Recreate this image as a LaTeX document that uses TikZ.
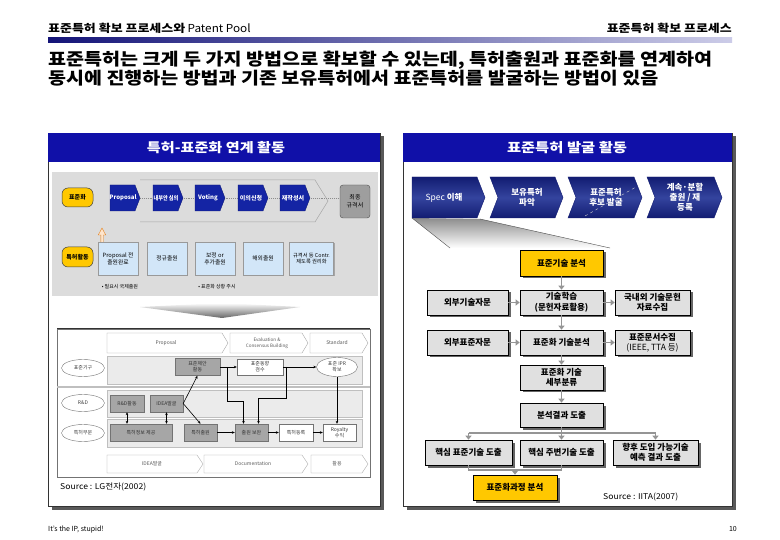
\documentclass[tikz,border=0pt]{standalone}
\usepackage{fontspec}
\usepackage{graphicx}
\setmainfont{Noto Sans CJK KR}
\usetikzlibrary{arrows.meta,shadows,calc,shapes.geometric}
\definecolor{navyL}{HTML}{141478}
\definecolor{navyR}{HTML}{CCCCE8}
\definecolor{titleblue}{HTML}{1010A8}
\definecolor{chevb}{HTML}{1424A4}
\definecolor{rnavy}{HTML}{121C72}
\definecolor{rnavyM}{HTML}{34449E}
\definecolor{ygold}{HTML}{FFC800}
\definecolor{boxgray}{HTML}{E0E0E0}
\definecolor{lgbg}{HTML}{DCDCDC}
\definecolor{lblue}{HTML}{D2E6F8}
\definecolor{arrgray}{HTML}{959595}
\newcommand{\fsz}[2]{\fontsize{#1}{#2}\selectfont}
\newcommand{\wfit}[2]{\resizebox{#1}{\height}{#2}}
\newcommand{\chevfill}[6]{\path[#1] (#2,#4) -- ({#3-#6},#4) -- (#3,{(#4+#5)/2}) -- ({#3-#6},#5) -- (#2,#5) -- cycle;}
\newcommand{\chevnotch}[6]{\path[#1] (#2,#4) -- ({#3-#6},#4) -- (#3,{(#4+#5)/2}) -- ({#3-#6},#5) -- (#2,#5) -- ({#2+#6},{(#4+#5)/2}) -- cycle;}
\begin{document}
\begin{tikzpicture}[x=1pt,y=-1pt,
  gbox/.style={draw=black, line width=0.6pt, fill=boxgray, font=\fsz{8.5}{10.5}\bfseries, align=center, inner sep=0pt,
    drop shadow={shadow xshift=2.5pt, shadow yshift=-2.5pt, fill=black!60, opacity=1}},
  ybox/.style={gbox, fill=ygold},
  garr/.style={draw=arrgray, line width=1.8pt, -{Triangle[length=4pt,width=6pt]}},
  gline/.style={draw=arrgray, line width=1.8pt},
  rchev/.style={top color=rnavy, bottom color=rnavy, middle color=rnavyM, draw=rnavy, line width=0.4pt},
  rtxt/.style={font=\fsz{8.5}{10}\bfseries, text=white, align=center, inner sep=0pt},
  bchev/.style={fill=chevb, draw=chevb!70!black, line width=0.3pt},
  btxt/.style={font=\fsz{6}{7}\bfseries, text=white, inner sep=0pt},
  wchev/.style={fill=white, draw=black!35, line width=0.4pt},
  wtxt/.style={font=\fsz{5}{6}, text=black!65, align=center, inner sep=0pt},
  yrnd/.style={fill=ygold, draw=black!75, line width=0.5pt, rounded corners=6pt, font=\fsz{6}{7}\bfseries, inner sep=0pt},
  lbbox/.style={fill=lblue, draw=black!40, line width=0.4pt, font=\fsz{5.8}{7}, align=center, inner sep=0pt,
    minimum width=40pt, minimum height=33pt, drop shadow={shadow xshift=1.2pt, shadow yshift=-1.2pt, fill=black!35, opacity=1}},
  dgbox/.style={fill=black!35, draw=black!55, line width=0.4pt, font=\fsz{5}{6}, text=black!80, align=center, inner sep=0pt, minimum height=17pt},
  wbox/.style={dgbox, fill=white},
  ell/.style={ellipse, draw=black!55, fill=white, line width=0.4pt, font=\fsz{5}{6}, text=black!75, align=center, inner sep=0pt},
  barr/.style={draw=black, line width=0.6pt},
  tip/.style={-{Stealth[length=3pt,width=2.6pt]}}
]
\useasboundingbox (0,0) rectangle (780,540);
\fill[white] (0,0) rectangle (780,540);

% ---------- header ----------
\node[anchor=base west, inner sep=0pt, font=\fsz{11}{13}] (hl) at (48,33) {\wfit{137pt}{\textbf{표준특허 확보 프로세스와}} \wfit{63pt}{Patent Pool}};
\node[anchor=base east, inner sep=0pt, font=\fsz{11}{13}\bfseries] (hr) at (732,33) {\wfit{125pt}{표준특허 확보 프로세스}};
\shade[left color=navyL, right color=navyR] (48,38) rectangle (732,42.5);
\node[anchor=base west, inner sep=0pt, font=\fsz{17}{20}\bfseries] (t1) at (48,66) {\wfit{664pt}{표준특허는 크게 두 가지 방법으로 확보할 수 있는데, 특허출원과 표준화를 연계하여}};
\node[anchor=base west, inner sep=0pt, font=\fsz{17}{20}\bfseries] (t2) at (48,85) {\wfit{610pt}{동시에 진행하는 방법과 기존 보유특허에서 표준특허를 발굴하는 방법이 있음}};

% ---------- panels ----------
\fill[black!65] (51.5,136.5) rectangle (383.5,509.5);
\filldraw[fill=white, draw=black!80, line width=0.6pt] (48,133) rectangle (380,506);
\fill[titleblue] (48,133) rectangle (380,162);
\node[font=\fsz{13}{15}\bfseries, text=white] (lt) at (216,148) {\wfit{138pt}{특허-표준화 연계 활동}};

\fill[black!65] (406.5,136.5) rectangle (735.5,509.5);
\filldraw[fill=white, draw=black!80, line width=0.6pt] (403,133) rectangle (732,506);
\fill[titleblue] (403,133) rectangle (732,162);
\node[font=\fsz{13}{15}\bfseries, text=white] (rt) at (567,148) {\wfit{120pt}{표준특허 발굴 활동}};

% ---------- left: picture 1 ----------
\fill[lgbg] (52,172) rectangle (378,296);
\draw[black!35, line width=0.5pt] (140,180) -- (315,180) -- (328,201) -- (315,222) -- (140,222);
\draw[black!45, densely dotted, line width=0.9pt] (140,198) -- (340,198);
\chevfill{bchev}{110}{140}{185}{211}{5}
\chevfill{bchev}{153}{183}{185}{211}{5}
\chevfill{bchev}{195}{225}{185}{211}{5}
\chevfill{bchev}{238}{268}{185}{211}{5}
\chevfill{bchev}{280}{310}{185}{211}{5}
\node[btxt] (c1) at (123,198) {Proposal};
\node[btxt] (c2) at (166,198) {\wfit{25pt}{내부안 심의}};
\node[btxt] (c3) at (208,198) {Voting};
\node[btxt] (c4) at (251,198) {이의신청};
\node[btxt] (c5) at (293,198) {재작성서};
\node[draw=black!70, fill=black!38, rounded corners=3pt, minimum width=30pt, minimum height=33pt, inner sep=0pt,
  font=\fsz{6}{7.5}, align=center] (fin) at (355,201.5) {최종\\규격서};
\node[yrnd, minimum width=31pt, minimum height=19pt] (ys) at (77.5,197.5) {표준화};
\node[yrnd, minimum width=31pt, minimum height=20pt] (yp) at (77.5,257) {특허활동};
\filldraw[fill=orange!20, draw=orange!55!brown, line width=0.4pt]
  (100.8,246) -- (100.8,235) -- (98.3,235) -- (102,228) -- (105.7,235) -- (103.2,235) -- (103.2,246) -- cycle;
\node[lbbox] (p1) at (118,258.5) {Proposal 전\\출원완료};
\node[lbbox] (p2) at (167,258.5) {정규출원};
\node[lbbox] (p3) at (215,258.5) {보정 or\\추가출원};
\node[lbbox] (p4) at (263,258.5) {해외출원};
\node[lbbox, minimum width=44pt, font=\fsz{5.3}{6.8}] (p5) at (311.5,258.5) {규격서 등 Contr.\\제도록 권리화};
\node[font=\fsz{5}{6}, inner sep=0pt] (bl1) at (120,287) {• 필요시 국제출원};
\node[font=\fsz{5}{6}, inner sep=0pt] (bl2) at (217,287) {• 표준화 상황 주시};

% down chevron
\shade[top color=white, bottom color=black!60] (140,307) -- (222,303) -- (300,307) -- (222,318) -- cycle;

% ---------- left: picture 2 ----------
\draw[black!55, line width=0.6pt] (57,329) rectangle (370,477);
\draw[black!80, line width=1pt] (57,329) -- (370,329);
\draw[black!25, line width=1.4pt] (57,387) -- (370,387);
\chevfill{wchev}{107}{228}{333}{353}{6}
\chevfill{wchev}{230}{308}{333}{353}{6}
\chevfill{wchev}{310}{368}{333}{353}{6}
\node[wtxt] (h1) at (166,343) {Proposal};
\node[wtxt, font=\fsz{4.6}{6}] (h2) at (267,343) {Evaluation \&\\Consensus Building};
\node[wtxt] (h3) at (337,343) {Standard};
\filldraw[fill=black!8, draw=black!25, line width=0.4pt] (107,356) rectangle (362,384);
\filldraw[fill=black!8, draw=black!25, line width=0.4pt] (107,390) rectangle (362,417);
\filldraw[fill=black!8, draw=black!25, line width=0.4pt] (107,419) rectangle (362,447);
\node[ell, minimum width=43pt, minimum height=17pt] (e1) at (83,368) {표준기구};
\node[ell, minimum width=43pt, minimum height=17pt] (e2) at (83,403) {R\&D};
\node[ell, minimum width=43pt, minimum height=17pt] (e3) at (83,433) {특허부문};
\chevfill{wchev}{107}{203}{455}{473}{6}
\chevfill{wchev}{204}{308}{455}{473}{6}
\chevfill{wchev}{311}{368}{455}{473}{6}
\node[wtxt] (f1) at (152,464) {IDEA발굴};
\node[wtxt] (f2) at (253,464) {Documentation};
\node[wtxt] (f3) at (337,464) {활용};

\node[dgbox, minimum width=45pt] (s1) at (197.5,367) {표준제안\\활동};
\node[wbox, minimum width=46pt, minimum height=16pt] (s2) at (260,367) {표준동향\\검수};
\node[ell, minimum width=41pt, minimum height=19pt] (s3) at (337,367) {표준 IPR\\확보};
\node[dgbox, minimum width=34pt] (r1) at (127,403.5) {R\&D활동};
\node[dgbox, minimum width=33pt] (r2) at (166.5,403.5) {IDEA발굴};
\node[dgbox, minimum width=62pt] (q1) at (141,432.5) {특허정보 제공};
\node[dgbox, minimum width=33pt] (q2) at (200.5,432.5) {특허출원};
\node[dgbox, minimum width=33pt] (q3) at (251.5,432.5) {출원 보완};
\node[wbox, minimum width=34pt] (q4) at (296,432.5) {특허등록};
\node[wbox, minimum width=33pt] (q5) at (339.5,432.5) {Royalty\\수익};

\draw[barr, {Stealth[length=3pt,width=2.6pt]}-{Stealth[length=3pt,width=2.6pt]}] (r1.south) -- (r1.south |- q1.north);
\draw[barr, {Stealth[length=3pt,width=2.6pt]}-{Stealth[length=3pt,width=2.6pt]}] (r2.south) -- (r2.south |- q1.north);
\draw[barr, tip] (r2.east) -- (s1.south);
\draw[barr, tip] (r2.east) -- (q2.north);
\draw[barr, tip] (s1.east) -- (s2.west);
\draw[barr, tip] (s2.east) -- (s3.west);
\draw[barr, tip] (s3.south) -- (q5.north -| s3.south);
\coordinate (j1) at ($(s1.east)!0.4!(s2.west)$);
\coordinate (j2) at ($(s2.east)!0.1!(s3.west)$);
\draw[barr, tip] (j1) -- ++(0,34) -| ([xshift=-8pt]q3.north);
\draw[barr, tip] (j2) -- ++(0,31) -| ([xshift=7pt]q3.north);
\draw[barr, tip] (q2.east) -- (q3.west);
\draw[barr, tip] (q3.east) -- (q4.west);
\draw[barr, tip] (q4.east) -- (q5.west);

\node[anchor=west, inner sep=0pt, font=\fsz{8}{10}] (srcl) at (60,487) {\wfit{86pt}{Source : LG전자(2002)}};

% ---------- right panel ----------
\shade[top color=black!45, bottom color=white] (412,218) -- (480,219) -- (610,248) -- (450,248) -- cycle;
\draw[black!70, line width=0.4pt] (412,218) -- (450,248);
\draw[black!70, line width=0.4pt] (480,219) -- (610,248);
\chevfill{rchev}{412}{485}{177}{218}{8}
\chevnotch{rchev}{490}{563}{177}{218}{8}
\chevnotch{rchev}{568}{642}{177}{218}{8}
\chevnotch{rchev}{647}{722}{177}{218}{8}
\draw[white!80!black, dashed, line width=0.4pt] (585,216) -- (636,187);
\node[rtxt, font=\fsz{8.5}{10}] (k1) at (444,197.5) {Spec \textbf{이해}};
\node[rtxt] (k2) at (527,197.5) {보유특허\\파악};
\node[rtxt] (k3) at (606,197.5) {표준특허\\후보 발굴};
\node[rtxt] (k4) at (685,197.5) {계속·분할\\출원 / 재\\등록};

\node[ybox, minimum width=83pt, minimum height=26pt] (Y1) at (561.5,263) {표준기술 분석};
\node[gbox, minimum width=81pt, minimum height=25pt] (A1) at (467.5,302.5) {외부기술자문};
\node[gbox, minimum width=83pt, minimum height=25pt] (B1) at (561.5,302.5) {기술학습\\(문헌자료활용)};
\node[gbox, minimum width=75pt, minimum height=25pt] (C1) at (652.5,302.5) {국내외 기술문헌\\자료수집};
\node[gbox, minimum width=81pt, minimum height=25pt] (A2) at (467.5,342.5) {외부표준자문};
\node[gbox, minimum width=83pt, minimum height=25pt] (B2) at (561.5,342.5) {표준화 기술분석};
\node[gbox, minimum width=75pt, minimum height=25pt] (C2) at (652.5,342.5) {표준문서수집\\\mdseries(IEEE, TTA 등)};
\node[gbox, minimum width=83pt, minimum height=25pt] (B3) at (561.5,377.5) {표준화 기술\\세부분류};
\node[gbox, minimum width=83pt, minimum height=24pt] (B4) at (561.5,415) {분석결과 도출};
\node[gbox, minimum width=87pt, minimum height=25pt] (D1) at (468.5,452.5) {핵심 표준기술 도출};
\node[gbox, minimum width=83pt, minimum height=25pt] (D2) at (561.5,452.5) {핵심 주변기술 도출};
\node[gbox, minimum width=85pt, minimum height=25pt] (D3) at (655.5,452.5) {향후 도입 가능기술\\예측 결과 도출};
\node[ybox, minimum width=84pt, minimum height=25pt] (Y2) at (515,487.5) {표준화과정 분석};

\draw[garr] (Y1.south) -- (B1.north);
\draw[garr] (A1.east) -- (B1.west);
\draw[garr] (B1.east) -- (C1.west);
\draw[garr] (B1.south) -- (B2.north);
\draw[garr] (A2.east) -- (B2.west);
\draw[garr] (B2.east) -- (C2.west);
\draw[garr] (B2.south) -- (B3.north);
\draw[garr] (B3.south) -- (B4.north);
\coordinate (br) at ($(B4.south)+(0,6)$);
\draw[gline] (B4.south) -- (br);
\draw[gline, line cap=butt] (D1.north |- br) -- (D3.north |- br);
\draw[garr] (D1.north |- br) -- (D1.north);
\draw[garr] (br) -- (D2.north);
\draw[garr] (D3.north |- br) -- (D3.north);
\coordinate (cv) at ($(D1.south)+(0,5)$);
\draw[gline] (D1.south) -- (D1.south |- cv) -- (D2.south |- cv) -- (D2.south);
\draw[garr] (Y2.north |- cv) -- (Y2.north);

\node[anchor=west, inner sep=0pt, font=\fsz{8}{10}] (srcr) at (603,497) {\wfit{75pt}{Source : IITA(2007)}};

% ---------- footer ----------
\node[anchor=base west, inner sep=0pt, font=\fsz{7}{8}] (ft) at (48,531) {It's the IP, stupid!};
\node[anchor=base east, inner sep=0pt, font=\fsz{7}{8}] (pg) at (737,531) {10};
\end{tikzpicture}
\end{document}
